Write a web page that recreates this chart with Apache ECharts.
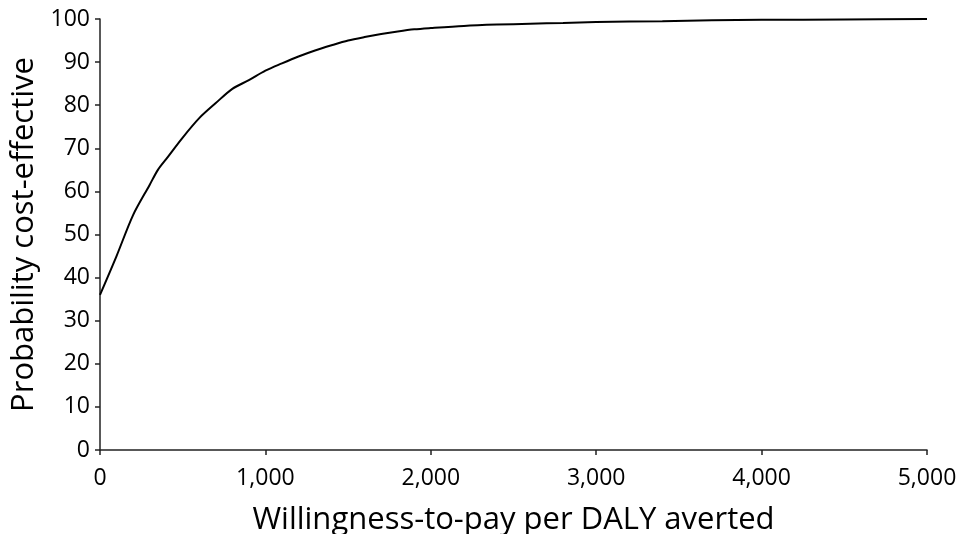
<!DOCTYPE html>
<html>
<head>
<meta charset="utf-8">
<script src="https://cdn.jsdelivr.net/npm/echarts@6/dist/echarts.min.js"></script>
<style>html,body{margin:0;padding:0;background:#fff;}#c{width:975px;height:534px;}</style>
</head>
<body>
<div id="c"></div>
<script>
const wtp = [0,100,200,300,350,400,500,600,700,800,900,1000,1100,1200,1300,1400,1500,1600,1700,1800,1900,2000,2200,2400,2600,2800,3000,3400,3700,4000,4500,5000];
const prob = [36,45,54.5,61.5,65,67.5,72.5,77,80.5,83.8,85.8,88,89.7,91.3,92.7,93.9,95,95.8,96.5,97.1,97.6,97.9,98.4,98.7,98.9,99.1,99.3,99.5,99.7,99.8,99.9,100];
const xTitle = 'Willingness-to-pay per DALY averted';
const yTitle = 'Probability cost-effective';

const chart = echarts.init(document.getElementById('c'));
const font = 'Open Sans';
chart.setOption({
  animation: false,
  grid: {left: 100, right: 48, top: 19, bottom: 84, containLabel: false, outerBoundsMode: 'none'},
  xAxis: {
    type: 'value', min: 0, max: 5000, interval: 1000,
    name: xTitle, nameLocation: 'middle', nameGap: 55,
    nameTextStyle: {fontFamily: font, fontSize: 31, color: '#000'},
    axisLine: {show: true, lineStyle: {color: '#222', width: 1.5}},
    axisTick: {show: true, length: 5, lineStyle: {color: '#222', width: 1.5}},
    axisLabel: {fontFamily: font, fontSize: 23, color: '#000', margin: 17,
      formatter: v => v.toLocaleString('en-US')},
    splitLine: {show: false}
  },
  yAxis: {
    type: 'value', min: 0, max: 100, interval: 10,
    name: yTitle, nameLocation: 'middle', nameGap: 56,
    nameTextStyle: {fontFamily: font, fontSize: 31, color: '#000'},
    axisLine: {show: true, lineStyle: {color: '#222', width: 1.5}},
    axisTick: {show: true, length: 5, lineStyle: {color: '#222', width: 1.5}},
    axisLabel: {fontFamily: font, fontSize: 23, color: '#000', margin: 10},
    splitLine: {show: false}
  },
  series: [{
    type: 'line', data: wtp.map((x, i) => [x, prob[i]]),
    showSymbol: false, smooth: 0.3,
    lineStyle: {color: '#000', width: 2}
  }]
});
</script>
</body>
</html>
